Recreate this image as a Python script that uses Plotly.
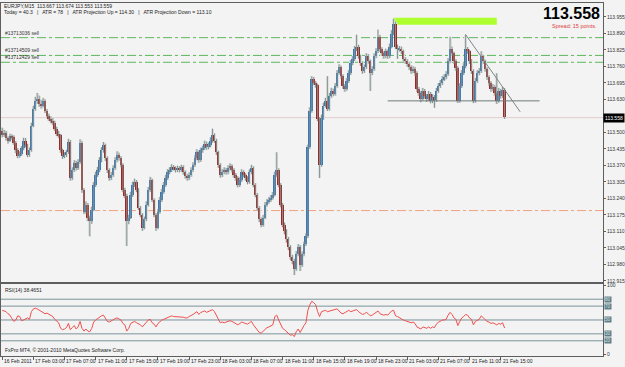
import plotly.graph_objects as go

W, H = 625, 367

symbol_title = "EURJPY,M15  113.667 113.674 113.553 113.559"
info_line = "Today = 40.3   |   ATR = 78   |   ATR Projection Up = 114.30   |   ATR Projection Down = 113.10"
rsi_title = "RSI(14) 38.4651"
copyright_text = "FxPro MT4, \u00a9 2001-2010 MetaQuotes Software Corp."
spread_text = "Spread: 15 points."

opens = [
    113.507, 113.488, 113.499, 113.476, 113.468, 113.484, 113.480, 113.460, 113.429, 113.406,
    113.414, 113.437, 113.468, 113.449, 113.410, 113.429, 113.527, 113.593, 113.624, 113.632,
    113.612, 113.605, 113.624, 113.585, 113.566, 113.554, 113.546, 113.538, 113.515, 113.495,
    113.488, 113.429, 113.406, 113.410, 113.421, 113.464, 113.320, 113.351, 113.379, 113.359,
    113.382, 113.460, 113.273, 113.188, 113.215, 113.164, 113.149, 113.196, 113.293, 113.332,
    113.351, 113.390, 113.429, 113.449, 113.398, 113.351, 113.320, 113.332, 113.359, 113.390,
    113.410, 113.398, 113.371, 113.273, 113.250, 113.149, 113.164, 113.254, 113.293, 113.304,
    113.273, 113.203, 113.176, 113.125, 113.157, 113.215, 113.273, 113.312, 113.234, 113.176,
    113.125, 113.188, 113.234, 113.266, 113.293, 113.320, 113.343, 113.351, 113.363, 113.359,
    113.351, 113.359, 113.351, 113.363, 113.343, 113.328, 113.320, 113.332, 113.351, 113.371,
    113.398, 113.421, 113.390, 113.429, 113.437, 113.456, 113.441, 113.449, 113.468, 113.488,
    113.468, 113.421, 113.371, 113.332, 113.343, 113.351, 113.343, 113.359, 113.367, 113.351,
    113.332, 113.320, 113.293, 113.312, 113.343, 113.332, 113.320, 113.304, 113.343, 113.359,
    113.293, 113.254, 113.203, 113.157, 113.137, 113.164, 113.215, 113.227, 113.234, 113.242,
    113.254, 113.332, 113.351, 113.293, 113.215, 113.137, 113.110, 113.079, 113.048, 113.008,
    112.993, 112.962, 113.020, 113.048, 112.977, 113.020, 113.059, 113.090, 113.441, 113.585,
    113.710, 113.694, 113.686, 113.554, 113.371, 113.558, 113.605, 113.624, 113.593, 113.643,
    113.663, 113.651, 113.682, 113.733, 113.756, 113.721, 113.682, 113.671, 113.702, 113.733,
    113.772, 113.788, 113.827, 113.838, 113.799, 113.772, 113.741, 113.756, 113.799, 113.780,
    113.733, 113.749, 113.799, 113.819, 113.877, 113.827, 113.811, 113.799, 113.819, 113.799,
    113.838, 113.889, 113.928, 113.838, 113.827, 113.830, 113.819, 113.788, 113.780, 113.768,
    113.756, 113.741, 113.749, 113.733, 113.671, 113.655, 113.632, 113.663, 113.643, 113.632,
    113.651, 113.624, 113.639, 113.628, 113.663, 113.682, 113.694, 113.710, 113.717, 113.729,
    113.780, 113.830, 113.811, 113.780, 113.752, 113.624, 113.682, 113.733, 113.760, 113.827,
    113.819, 113.780, 113.741, 113.624, 113.702, 113.733, 113.741, 113.799, 113.780, 113.749,
    113.717, 113.694, 113.671, 113.678, 113.655, 113.624, 113.663, 113.643, 113.667,
]

highs = [
    113.519, 113.510, 113.506, 113.484, 113.495, 113.492, 113.488, 113.466, 113.437, 113.425,
    113.446, 113.479, 113.478, 113.455, 113.440, 113.538, 113.605, 113.640, 113.655, 113.645,
    113.628, 113.636, 113.630, 113.592, 113.574, 113.563, 113.556, 113.546, 113.522, 113.506,
    113.494, 113.436, 113.421, 113.431, 113.475, 113.470, 113.362, 113.390, 113.388, 113.394,
    113.472, 113.465, 113.280, 113.228, 113.222, 113.172, 113.208, 113.304, 113.345, 113.364,
    113.402, 113.441, 113.462, 113.456, 113.405, 113.358, 113.344, 113.370, 113.402, 113.425,
    113.420, 113.406, 113.378, 113.282, 113.258, 113.176, 113.266, 113.306, 113.318, 113.312,
    113.280, 113.210, 113.182, 113.168, 113.228, 113.285, 113.325, 113.318, 113.240, 113.182,
    113.198, 113.246, 113.278, 113.305, 113.332, 113.355, 113.362, 113.374, 113.371, 113.366,
    113.369, 113.367, 113.373, 113.370, 113.350, 113.336, 113.342, 113.362, 113.382, 113.410,
    113.433, 113.428, 113.440, 113.448, 113.468, 113.464, 113.460, 113.480, 113.515, 113.496,
    113.475, 113.428, 113.378, 113.355, 113.362, 113.360, 113.370, 113.378, 113.374, 113.358,
    113.340, 113.327, 113.323, 113.354, 113.350, 113.339, 113.327, 113.354, 113.372, 113.366,
    113.300, 113.261, 113.210, 113.165, 113.175, 113.226, 113.238, 113.245, 113.252, 113.265,
    113.345, 113.421, 113.358, 113.300, 113.222, 113.145, 113.118, 113.088, 113.056, 113.018,
    113.002, 113.032, 113.060, 113.056, 113.031, 113.070, 113.102, 113.452, 113.598, 113.721,
    113.718, 113.702, 113.692, 113.560, 113.570, 113.617, 113.636, 113.721, 113.655, 113.676,
    113.672, 113.694, 113.745, 113.768, 113.763, 113.728, 113.690, 113.714, 113.745, 113.784,
    113.800, 113.840, 113.885, 113.845, 113.806, 113.779, 113.767, 113.811, 113.808, 113.787,
    113.760, 113.811, 113.831, 113.905, 113.884, 113.835, 113.819, 113.830, 113.826, 113.850,
    113.902, 113.947, 113.935, 113.846, 113.840, 113.838, 113.826, 113.796, 113.788, 113.776,
    113.764, 113.760, 113.757, 113.740, 113.679, 113.662, 113.675, 113.671, 113.651, 113.663,
    113.659, 113.650, 113.647, 113.675, 113.694, 113.706, 113.722, 113.729, 113.741, 113.792,
    113.877, 113.838, 113.818, 113.788, 113.760, 113.694, 113.745, 113.772, 113.885, 113.836,
    113.826, 113.788, 113.748, 113.714, 113.745, 113.753, 113.819, 113.806, 113.787, 113.756,
    113.724, 113.702, 113.690, 113.686, 113.733, 113.675, 113.671, 113.679, 113.674,
]

lows = [
    113.480, 113.482, 113.468, 113.456, 113.462, 113.471, 113.452, 113.418, 113.398, 113.400,
    113.408, 113.430, 113.441, 113.402, 113.404, 113.424, 113.520, 113.585, 113.612, 113.601,
    113.594, 113.598, 113.576, 113.558, 113.545, 113.536, 113.528, 113.506, 113.485, 113.478,
    113.420, 113.396, 113.398, 113.403, 113.415, 113.310, 113.312, 113.344, 113.350, 113.352,
    113.375, 113.262, 113.178, 113.180, 113.150, 113.090, 113.140, 113.190, 113.285, 113.325,
    113.343, 113.382, 113.420, 113.388, 113.340, 113.310, 113.312, 113.325, 113.352, 113.382,
    113.389, 113.362, 113.264, 113.240, 113.052, 113.138, 113.158, 113.246, 113.285, 113.264,
    113.194, 113.166, 113.112, 113.118, 113.150, 113.208, 113.265, 113.225, 113.166, 113.112,
    113.118, 113.180, 113.226, 113.258, 113.286, 113.312, 113.335, 113.344, 113.350, 113.342,
    113.343, 113.342, 113.344, 113.334, 113.318, 113.310, 113.312, 113.325, 113.344, 113.364,
    113.390, 113.381, 113.384, 113.420, 113.430, 113.432, 113.433, 113.441, 113.460, 113.459,
    113.411, 113.360, 113.322, 113.324, 113.335, 113.334, 113.335, 113.350, 113.342, 113.322,
    113.310, 113.283, 113.285, 113.305, 113.323, 113.310, 113.295, 113.298, 113.335, 113.284,
    113.244, 113.193, 113.146, 113.126, 113.129, 113.158, 113.208, 113.219, 113.226, 113.235,
    113.248, 113.325, 113.284, 113.205, 113.126, 113.098, 113.066, 113.036, 112.996, 112.980,
    112.938, 112.955, 113.012, 112.954, 112.970, 113.012, 113.052, 113.084, 113.435, 113.578,
    113.686, 113.676, 113.544, 113.320, 113.365, 113.550, 113.598, 113.584, 113.586, 113.636,
    113.642, 113.645, 113.676, 113.727, 113.712, 113.672, 113.660, 113.664, 113.695, 113.726,
    113.764, 113.781, 113.820, 113.790, 113.762, 113.731, 113.734, 113.749, 113.771, 113.663,
    113.725, 113.742, 113.792, 113.812, 113.818, 113.802, 113.790, 113.792, 113.790, 113.792,
    113.831, 113.882, 113.828, 113.790, 113.818, 113.808, 113.778, 113.770, 113.758, 113.746,
    113.731, 113.733, 113.722, 113.660, 113.644, 113.618, 113.625, 113.633, 113.620, 113.624,
    113.614, 113.615, 113.597, 113.620, 113.656, 113.675, 113.686, 113.702, 113.709, 113.722,
    113.772, 113.802, 113.770, 113.742, 113.616, 113.617, 113.675, 113.726, 113.752, 113.810,
    113.770, 113.731, 113.615, 113.617, 113.695, 113.725, 113.734, 113.770, 113.739, 113.707,
    113.684, 113.660, 113.663, 113.645, 113.612, 113.617, 113.633, 113.636, 113.553,
]

closes = [
    113.488, 113.499, 113.476, 113.468, 113.484, 113.480, 113.460, 113.429, 113.406, 113.414,
    113.437, 113.468, 113.449, 113.410, 113.429, 113.527, 113.593, 113.624, 113.632, 113.612,
    113.605, 113.624, 113.585, 113.566, 113.554, 113.546, 113.538, 113.515, 113.495, 113.488,
    113.429, 113.406, 113.410, 113.421, 113.464, 113.320, 113.351, 113.379, 113.359, 113.382,
    113.460, 113.273, 113.188, 113.215, 113.164, 113.149, 113.196, 113.293, 113.332, 113.351,
    113.390, 113.429, 113.449, 113.398, 113.351, 113.320, 113.332, 113.359, 113.390, 113.410,
    113.398, 113.371, 113.273, 113.250, 113.149, 113.164, 113.254, 113.293, 113.304, 113.273,
    113.203, 113.176, 113.125, 113.157, 113.215, 113.273, 113.312, 113.234, 113.176, 113.125,
    113.188, 113.234, 113.266, 113.293, 113.320, 113.343, 113.351, 113.363, 113.359, 113.351,
    113.359, 113.351, 113.363, 113.343, 113.328, 113.320, 113.332, 113.351, 113.371, 113.398,
    113.421, 113.390, 113.429, 113.437, 113.456, 113.441, 113.449, 113.468, 113.488, 113.468,
    113.421, 113.371, 113.332, 113.343, 113.351, 113.343, 113.359, 113.367, 113.351, 113.332,
    113.320, 113.293, 113.312, 113.343, 113.332, 113.320, 113.304, 113.343, 113.359, 113.293,
    113.254, 113.203, 113.157, 113.137, 113.164, 113.215, 113.227, 113.234, 113.242, 113.254,
    113.332, 113.351, 113.293, 113.215, 113.137, 113.110, 113.079, 113.048, 113.008, 112.993,
    112.962, 113.020, 113.048, 112.977, 113.020, 113.059, 113.090, 113.441, 113.585, 113.710,
    113.694, 113.686, 113.554, 113.371, 113.558, 113.605, 113.624, 113.593, 113.643, 113.663,
    113.651, 113.682, 113.733, 113.756, 113.721, 113.682, 113.671, 113.702, 113.733, 113.772,
    113.788, 113.827, 113.838, 113.799, 113.772, 113.741, 113.756, 113.799, 113.780, 113.733,
    113.749, 113.799, 113.819, 113.877, 113.827, 113.811, 113.799, 113.819, 113.799, 113.838,
    113.889, 113.928, 113.838, 113.827, 113.830, 113.819, 113.788, 113.780, 113.768, 113.756,
    113.741, 113.749, 113.733, 113.671, 113.655, 113.632, 113.663, 113.643, 113.632, 113.651,
    113.624, 113.639, 113.628, 113.663, 113.682, 113.694, 113.710, 113.717, 113.729, 113.780,
    113.830, 113.811, 113.780, 113.752, 113.624, 113.682, 113.733, 113.760, 113.827, 113.819,
    113.780, 113.741, 113.624, 113.702, 113.733, 113.741, 113.799, 113.780, 113.749, 113.717,
    113.694, 113.671, 113.678, 113.655, 113.624, 113.663, 113.643, 113.667, 113.559,
]

rsi_values = [
    64, 63, 62, 59, 57, 52, 48, 50, 56, 55,
    49, 50, 52, 53, 51, 62, 66, 67, 66, 64,
    62, 60, 59, 60, 58, 57, 55, 51, 48, 46,
    38, 36, 37, 39, 45, 36, 39, 42, 37, 40,
    48, 38, 34, 37, 34, 33, 38, 47, 50, 52,
    55, 56, 57, 52, 48, 47, 49, 50, 52, 53,
    52, 50, 45, 43, 34, 38, 45, 47, 48, 46,
    45, 43, 40, 43, 47, 50, 51, 46, 44, 40,
    45, 48, 50, 51, 52, 54, 55, 56, 55, 55,
    55, 54, 55, 54, 53, 53, 55, 56, 58, 60,
    62, 58, 61, 62, 63, 61, 62, 63, 65, 62,
    56, 50, 46, 47, 46, 47, 48, 49, 48, 46,
    45, 43, 45, 47, 46, 45, 44, 46, 48, 43,
    39, 36, 32, 31, 34, 37, 39, 40, 41, 43,
    55, 57, 50, 43, 38, 36, 33, 31, 28, 29,
    26, 33, 37, 32, 38, 42, 46, 64, 72, 77,
    75, 72, 62, 55, 62, 63, 64, 62, 63, 64,
    64, 66, 66, 63, 60, 59, 61, 63, 64, 62,
    63, 64, 65, 62, 60, 58, 59, 61, 59, 56,
    57, 59, 60, 63, 59, 58, 57, 58, 57, 60,
    63, 64, 56, 55, 53, 52, 50, 49, 48, 47,
    46, 47, 45, 40, 38, 37, 40, 39, 38, 40,
    38, 40, 39, 44, 47, 48, 50, 50, 51, 57,
    61, 58, 53, 51, 42, 48, 53, 55, 58, 57,
    53, 51, 43, 48, 50, 51, 56, 53, 51, 48,
    47, 45, 46, 45, 43, 45, 44, 46, 38.4651,
]

date_tick_bars = [0, 16, 32, 48, 64, 80, 96, 112, 128, 144, 160, 176, 192, 208, 224, 240, 256]
date_tick_labels = [
    "16 Feb 2011", "17 Feb 03:00", "17 Feb 07:00", "17 Feb 11:00", "17 Feb 15:00",
    "17 Feb 19:00", "17 Feb 23:00", "18 Feb 03:00", "18 Feb 07:00", "18 Feb 11:00",
    "18 Feb 15:00", "18 Feb 19:00", "18 Feb 23:00", "21 Feb 03:00", "21 Feb 07:00",
    "21 Feb 11:00", "21 Feb 15:00",
]
price_ticks = [112.915, 112.980, 113.045, 113.110, 113.175, 113.240, 113.305, 113.370,
               113.435, 113.500, 113.630, 113.695, 113.760, 113.825, 113.890, 113.955]
rsi_levels = [80, 70, 50, 30, 20]
rsi_axis_ticks = [0, 100]

sell_labels = ["#13713036 sell", "#13714509 sell", "#13712429 sell"]
sell_prices = [113.873, 113.803, 113.776]
alert_price = 113.192
bid_price = 113.558
zone_bars = [201, 254]
zone_prices = [113.924, 113.951]
support_bars = [198, 276]
support_price = 113.624
trend_bars = [238, 266]
trend_prices = [113.885, 113.581]

# ---------------------------------------------------------------
BG = "#f3f3f3"
AX = "#5e5e5e"
UP = "#3878b8"
DOWN = "#a02626"
WICK = "#85938f"
HALO = "#dde1e1"
FONT = "Liberation Sans, Arial, sans-serif"

def px(xp):
    return xp / W

def py(yp):
    return 1 - yp / H

n = len(closes)
bars = list(range(n))

wick_x, wick_y = [], []
for i in bars:
    wick_x += [i, i, None]
    wick_y += [lows[i], highs[i], None]

range_h = [h - l for h, l in zip(highs, lows)]
body_base = [min(o, c) for o, c in zip(opens, closes)]
body_h = [max(abs(c - o), 0.0015) for o, c in zip(opens, closes)]
body_col = [UP if c >= o else DOWN for o, c in zip(opens, closes)]

fig = go.Figure()
fig.add_trace(go.Bar(x=bars, y=range_h, base=lows, width=1.5,
                     marker=dict(color=HALO, line=dict(width=0)),
                     showlegend=False, xaxis="x", yaxis="y"))
fig.add_trace(go.Scatter(x=wick_x, y=wick_y, mode="lines",
                         line=dict(color=WICK, width=1), hoverinfo="skip",
                         showlegend=False, xaxis="x", yaxis="y"))
fig.add_trace(go.Bar(x=bars, y=body_h, base=body_base, width=1.0,
                     marker=dict(color=body_col, line=dict(width=0)),
                     showlegend=False, xaxis="x", yaxis="y"))
fig.add_trace(go.Scatter(x=trend_bars, y=trend_prices, mode="lines",
                         line=dict(color="#7d8585", width=1), showlegend=False,
                         xaxis="x", yaxis="y"))
fig.add_trace(go.Scatter(x=support_bars, y=[support_price, support_price], mode="lines",
                         line=dict(color="#6f7a7a", width=1), showlegend=False,
                         xaxis="x", yaxis="y"))
fig.add_trace(go.Scatter(x=bars, y=rsi_values, mode="lines",
                         line=dict(color="#f05050", width=1), showlegend=False,
                         xaxis="x2", yaxis="y2"))

x_dom = [px(1), px(607)]
x_rng = [-0.61, 308.6]

shapes = []
for p in sell_prices:
    shapes.append(dict(type="line", xref="paper", yref="y", x0=x_dom[0], x1=x_dom[1],
                       y0=p, y1=p, line=dict(color="#5cb85c", width=1, dash="dashdot"),
                       layer="below"))
shapes.append(dict(type="line", xref="paper", yref="y", x0=x_dom[0], x1=x_dom[1],
                   y0=alert_price, y1=alert_price,
                   line=dict(color="#f4a27e", width=1, dash="dashdot"), layer="below"))
shapes.append(dict(type="line", xref="paper", yref="y", x0=x_dom[0], x1=x_dom[1],
                   y0=bid_price, y1=bid_price,
                   line=dict(color="#e2cccc", width=1), layer="below"))
shapes.append(dict(type="rect", xref="x", yref="y", x0=zone_bars[0], x1=zone_bars[1],
                   y0=zone_prices[0], y1=zone_prices[1],
                   fillcolor="#adff2f", line=dict(width=0), layer="below"))
for lv in rsi_levels:
    shapes.append(dict(type="line", xref="paper", yref="y2", x0=x_dom[0], x1=x_dom[1],
                       y0=lv, y1=lv, line=dict(color="#7a9399", width=1), layer="below"))

ann = []
def text(x, y, s, size=5, color="#222", xanchor="left", yanchor="middle", **kw):
    d = dict(x=x, y=y, text=s, showarrow=False, xanchor=xanchor, yanchor=yanchor,
             font=dict(family=FONT, size=size, color=color), xref="paper", yref="paper")
    d.update(kw)
    ann.append(d)

text(px(2), py(4), symbol_title)
text(px(2), py(10.5), info_line)
for lab, p in zip(sell_labels, sell_prices):
    ann.append(dict(x=px(3), y=p, xref="paper", yref="y", text=lab, showarrow=False,
                    xanchor="left", yanchor="bottom",
                    font=dict(family=FONT, size=5, color="#333")))
ann.append(dict(x=px(606), y=py(12), xref="paper", yref="paper",
                text=f"{bid_price:.3f}", showarrow=False,
                xanchor="right", yanchor="middle",
                font=dict(family="Liberation Sans, Arial, sans-serif",
                          size=16, color="black", weight="bold")))
text(px(603), py(24), spread_text, size=5.5, color="#e03c3c", xanchor="right")
ann.append(dict(x=px(607), y=bid_price, xref="paper", yref="y",
                text=f"{bid_price:.3f}", showarrow=False, xanchor="left", yanchor="middle",
                bgcolor="#000000", borderpad=1,
                font=dict(family=FONT, size=5, color="#ffffff")))
text(px(3), py(291), rsi_title)
text(px(3), py(351.5), copyright_text)
for b, lab in zip(date_tick_bars, date_tick_labels):
    ann.append(dict(x=b, y=py(362.5), xref="x2", yref="paper", text=lab, showarrow=False,
                    xanchor="left", yanchor="middle",
                    font=dict(family=FONT, size=5, color="#222")))
for lv in rsi_levels:
    ann.append(dict(x=px(608), y=lv, xref="paper", yref="y2", text=str(lv), showarrow=False,
                    xanchor="left", yanchor="middle", bgcolor="#5f7f86", borderpad=0,
                    font=dict(family=FONT, size=4.5, color="#d8e4e4")))

axis_common = dict(showgrid=False, zeroline=False, showline=True, mirror=True,
                   linecolor=AX, linewidth=1)

fig.update_layout(
    width=W, height=H,
    margin=dict(l=0, r=0, t=0, b=0),
    paper_bgcolor=BG, plot_bgcolor=BG,
    barmode="overlay", bargap=0,
    showlegend=False,
    xaxis=dict(domain=x_dom, range=x_rng, showticklabels=False, ticks="", anchor="y",
               **axis_common),
    yaxis=dict(domain=[py(283), py(1)], range=[112.911, 114.0095], side="right",
               anchor="x", tickvals=price_ticks, ticktext=[f"{v:.3f}" for v in price_ticks],
               ticks="outside", ticklen=2, tickcolor=AX,
               tickfont=dict(family=FONT, size=5, color="#333"), **axis_common),
    xaxis2=dict(domain=x_dom, range=x_rng, anchor="y2", matches="x",
                tickvals=date_tick_bars, showticklabels=False, ticks="outside",
                ticklen=3, tickcolor=AX, **axis_common),
    yaxis2=dict(domain=[py(358), py(285)], range=[-2.1, 102.1], side="right",
                anchor="x2", tickvals=rsi_axis_ticks, ticktext=[str(v) for v in rsi_axis_ticks],
                ticks="outside", ticklen=2, tickcolor=AX,
                tickfont=dict(family=FONT, size=5, color="#333"), **axis_common),
    shapes=shapes,
    annotations=ann,
)

fig.write_html("out.html")
